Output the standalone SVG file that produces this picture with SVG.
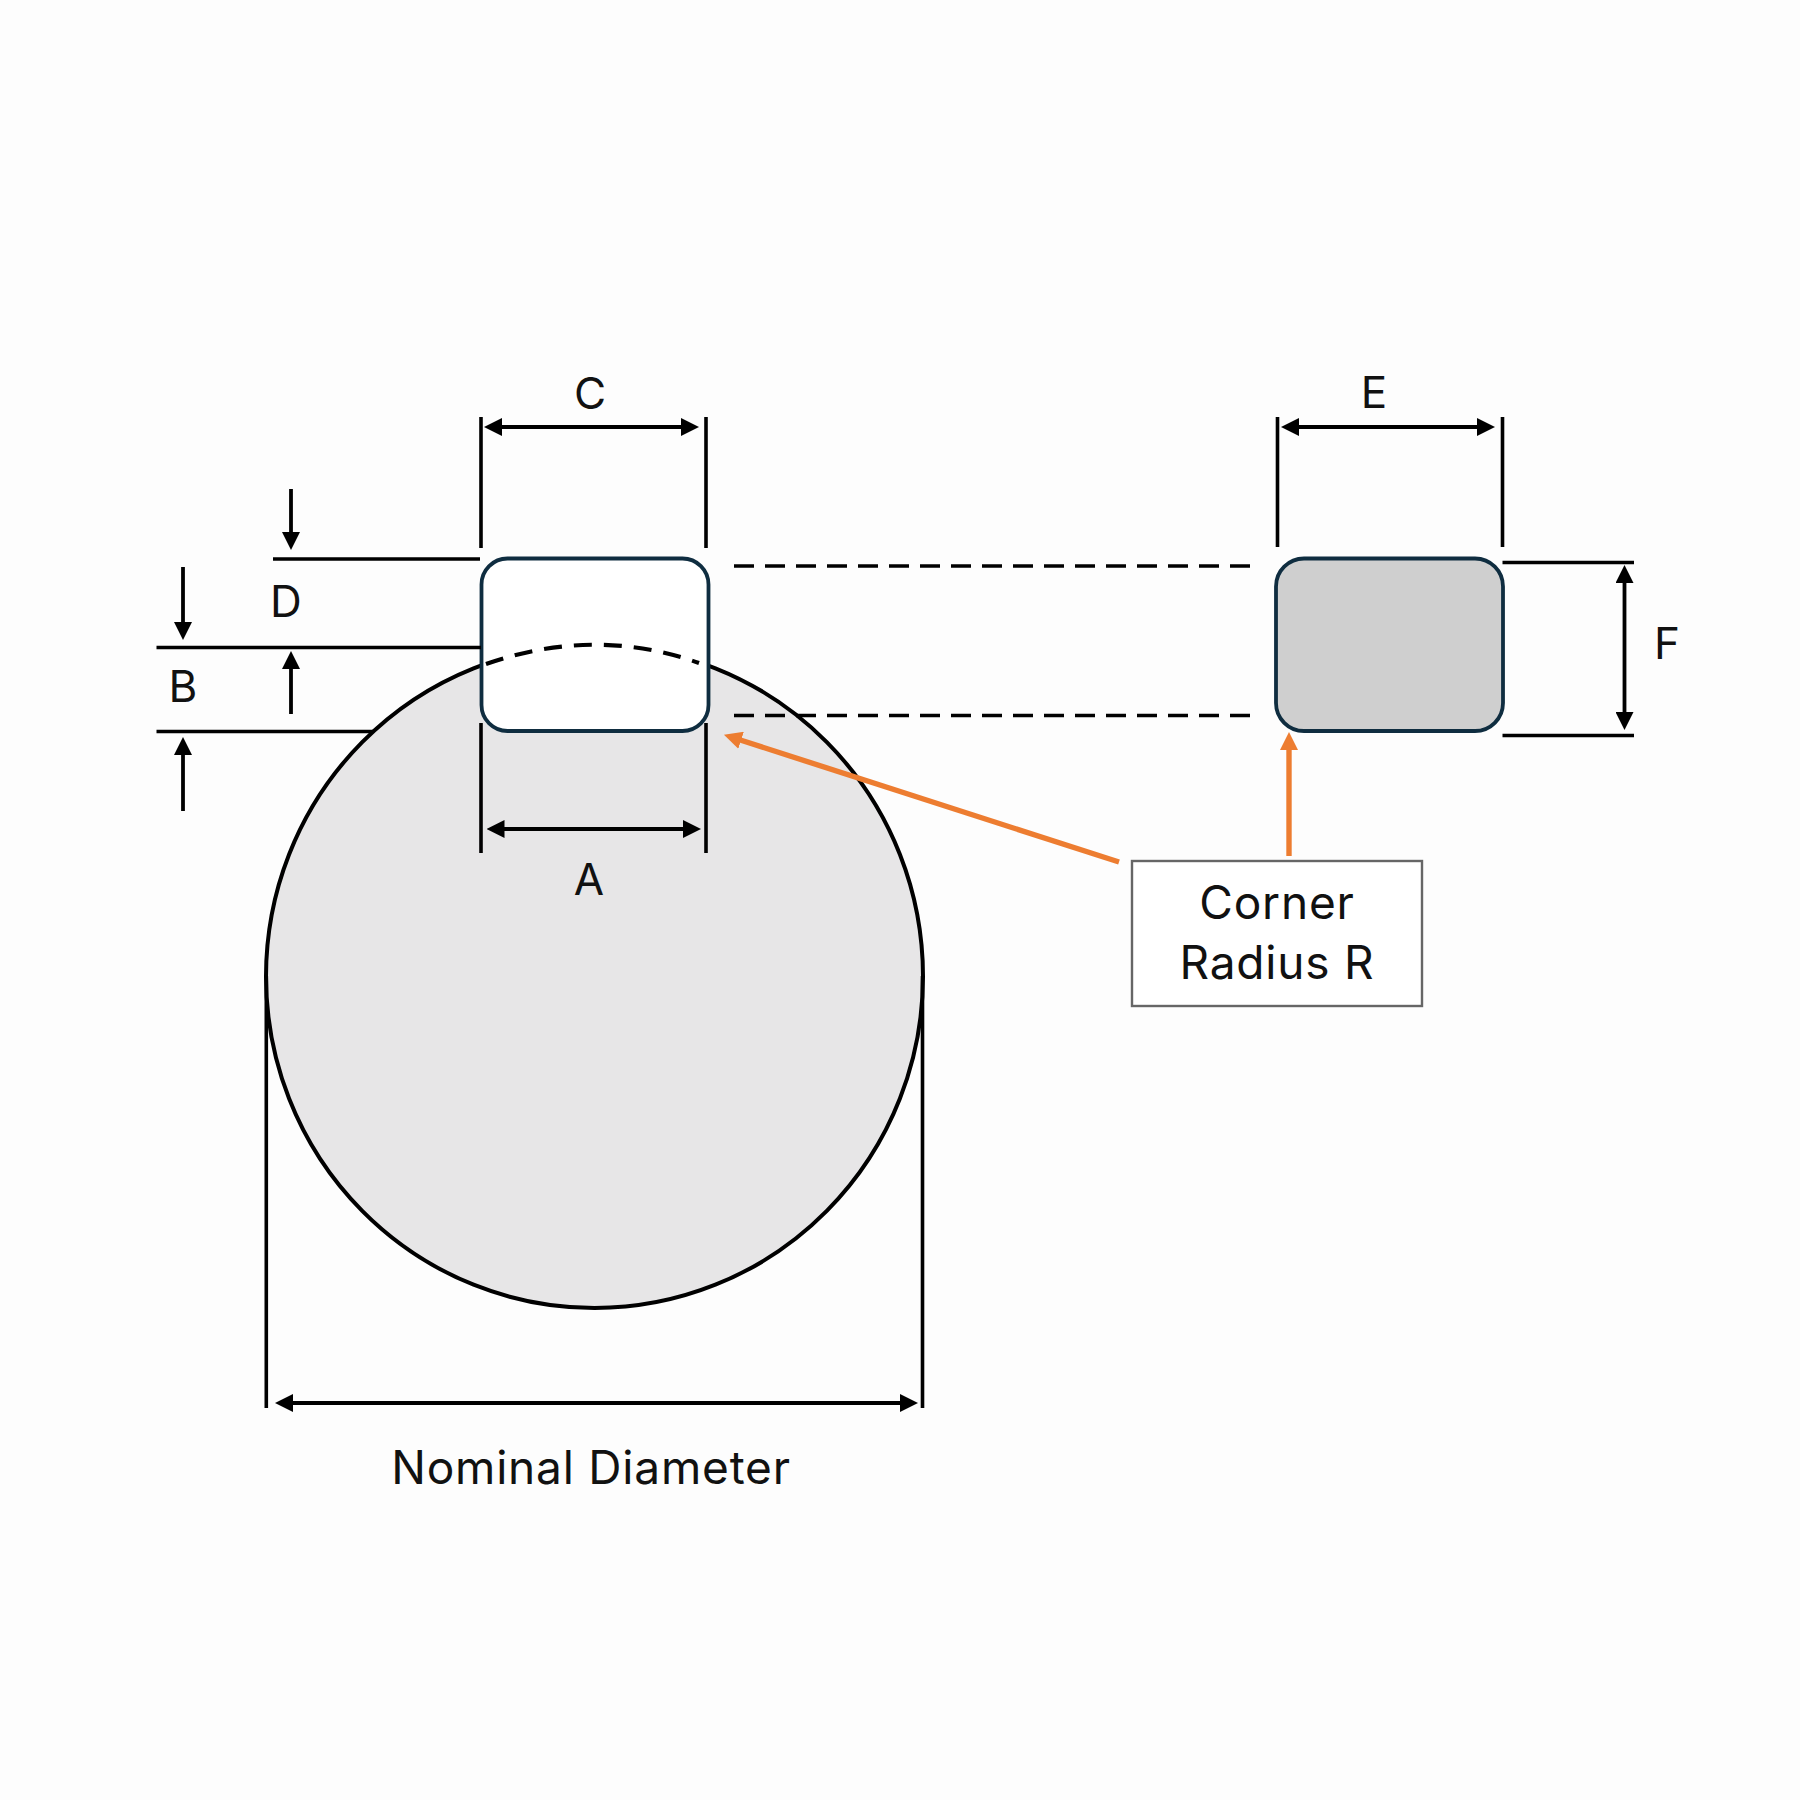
<svg xmlns="http://www.w3.org/2000/svg" width="1800" height="1800" viewBox="0 0 1800 1800">
<style>
.k{stroke:#000;stroke-width:3.6;fill:none}
.dim{stroke:#000;stroke-width:3.8;fill:none}
.dash{stroke:#000;stroke-width:3.4;fill:none;stroke-dasharray:20 11}
.arc{stroke-width:4.2;stroke-dasharray:18 12}
.or{stroke:#ed7d31;stroke-width:5.4;fill:none}
.a2{marker-start:url(#ka);marker-end:url(#ka)}
.a1{marker-end:url(#ka)}
.ao{marker-end:url(#oa)}
.key{stroke:#0f2d40;stroke-width:3.8}
text{font-family:"Inter","Noto Sans","Liberation Sans",sans-serif;fill:#111;text-anchor:middle}
.l{font-size:44px}
.w{font-size:46px;letter-spacing:.8px}
</style>
<defs>
<marker id="ka" markerUnits="userSpaceOnUse" markerWidth="18" markerHeight="18" refX="8" refY="8" orient="auto-start-reverse" viewBox="0 0 16 16"><path d="M0,0L16,8L0,16Z" fill="#000"/></marker>
<marker id="oa" markerUnits="userSpaceOnUse" markerWidth="18" markerHeight="18" refX="8" refY="8" orient="auto" viewBox="0 0 16 16"><path d="M0,0L16,8L0,16Z" fill="#ed7d31"/></marker>
</defs>
<rect width="1800" height="1800" fill="#fdfdfd"/>
<g id="shaft"><ellipse cx="594.5" cy="976.5" rx="328.5" ry="331.500" fill="#e7e6e7" stroke="#000" stroke-width="4"/></g>
<g id="keyway"><rect x="481.500" y="558.500" width="227" height="172.500" rx="26" fill="#fff" class="key"/></g>
<g id="key"><rect x="1276" y="558.500" width="227" height="172.500" rx="28" fill="#cfcfcf" class="key"/></g>
<g id="connectors">
<path class="dash arc" d="M486,664Q595,626 699,663"/>
<path class="dash" d="M734,566H1251M734,715.500H1251"/>
<path class="k" d="M481,417V548M706,417V548M1277.500,417V547M1502.500,417V547M481,723V853M706,723V853"/>
<path class="k" d="M273,559H480M156.500,647.500H481M156.500,731.500H373M1502.500,562.500H1634M1502.500,735.500H1634M266.300,976V1408M922.500,976V1408"/>
<path class="dim a2" d="M493,427H690"/>
<path class="dim a2" d="M1290,427H1486"/>
<path class="dim a2" d="M495.500,829H692"/>
<path class="dim a2" d="M284,1403H909"/>
<path class="dim a2" d="M1624.500,574V721"/>
<path class="dim a1" d="M291,489V541"/>
<path class="dim a1" d="M291,714V660"/>
<path class="dim a1" d="M183,567V631"/>
<path class="dim a1" d="M183,811V746"/>
<path class="or ao" d="M1119,862L732.500,737.500"/>
<path class="or ao" d="M1289,856V741"/>
</g>
<g id="callout"><rect x="1132" y="861" width="290" height="145" fill="#fff" stroke="#666" stroke-width="2.4"/>
<text class="w" x="1277" y="919">Corner</text><text class="w" x="1277" y="979">Radius R</text></g>
<g id="labels">
<text class="l" x="590" y="409">C</text>
<text class="l" x="1374" y="408">E</text>
<text class="l" x="286" y="617">D</text>
<text class="l" x="183" y="702">B</text>
<text class="l" x="589" y="895">A</text>
<text class="l" x="1667" y="659">F</text>
<text class="w" x="591" y="1484">Nominal Diameter</text>
</g>
</svg>
